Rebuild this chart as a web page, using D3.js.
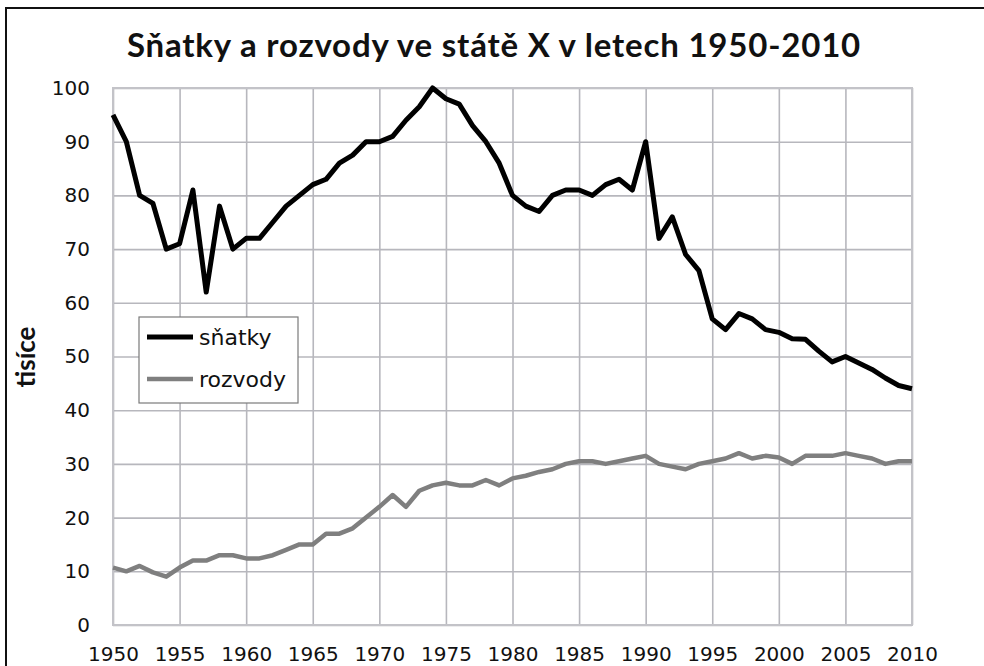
<!DOCTYPE html>
<html>
<head>
<meta charset="utf-8">
<script src="https://cdn.jsdelivr.net/npm/d3@7"></script>
<style>
  html, body { margin: 0; padding: 0; background: #fff; }
  svg { display: block; }
</style>
</head>
<body>
<svg id="chart" width="984" height="666"></svg>
<script>
// Data (tisíce)
var startYear = 1950;
var endYear = 2010;
var snatky = [95, 90, 80, 78.5, 70, 71, 81, 62, 78, 70,
              72, 72, 75, 78, 80, 82, 83, 86, 87.5, 90,
              90, 91, 94, 96.5, 100, 98, 97, 93, 90, 86,
              80, 78, 77, 80, 81, 81, 80, 82, 83, 81,
              90, 72, 76, 69, 66, 57, 55, 58, 57, 55,
              54.5, 53.3, 53.2, 51, 49, 50, 48.8, 47.6, 46, 44.6,
              44];
var rozvody = [10.7, 10, 11, 9.8, 9, 10.7, 12, 12, 13, 13,
               12.4, 12.4, 13, 14, 15, 15, 17, 17, 18, 20,
               22, 24.2, 22, 25, 26, 26.5, 26, 26, 27, 26,
               27.3, 27.8, 28.5, 29, 30, 30.5, 30.5, 30, 30.5, 31,
               31.5, 30, 29.5, 29, 30, 30.5, 31, 32, 31, 31.5,
               31.2, 30, 31.5, 31.5, 31.5, 32, 31.5, 31, 30, 30.5,
               30.5];
var xTicks = [1950, 1955, 1960, 1965, 1970, 1975, 1980, 1985, 1990, 1995, 2000, 2005, 2010];
var yTicks = [0, 10, 20, 30, 40, 50, 60, 70, 80, 90, 100];
var seriesNames = ["sňatky", "rozvody"];
var seriesColours = ["#000000", "#7f7f7f"];

var years = d3.range(startYear, endYear + 1);

var margin = { top: 88, right: 72, bottom: 41, left: 113 };
var svgWidth = 984, svgHeight = 666;
var width = svgWidth - margin.left - margin.right;
var height = svgHeight - margin.top - margin.bottom;

var svg = d3.select("#chart");

// outer frame (runs off the right and bottom edge in the original)
svg.append("rect")
    .attr("x", 6).attr("y", 8)
    .attr("width", 1000).attr("height", 700)
    .attr("fill", "#fff")
    .attr("stroke", "#111")
    .attr("stroke-width", 2);

svg.append("text")
    .attr("x", 494).attr("y", 57)
    .attr("text-anchor", "middle")
    .style("font-family", "Lato, 'Open Sans', sans-serif")
    .style("font-weight", "bold")
    .style("font-size", "33px")
    .style("letter-spacing", "0.8px")
    .attr("fill", "#111")
    .text("Sňatky a rozvody ve státě X v letech 1950-2010");

var g = svg.append("g")
    .attr("transform", "translate(" + margin.left + "," + margin.top + ")");

var x = d3.scaleLinear().domain([startYear, endYear]).range([0, width]);
var y = d3.scaleLinear().domain([0, 100]).range([height, 0]);

// gridlines
var gridColour = "#b7b7bd";
g.append("g")
    .attr("class", "grid y")
    .call(d3.axisLeft(y).tickValues(yTicks).tickSize(-width).tickFormat(""))
    .call(function (s) { s.select(".domain").remove(); })
    .selectAll("line")
    .attr("stroke", gridColour)
    .attr("stroke-width", 1.6);

g.append("g")
    .attr("class", "grid x")
    .attr("transform", "translate(0," + height + ")")
    .call(d3.axisBottom(x).tickValues(xTicks).tickSize(-height).tickFormat(""))
    .call(function (s) { s.select(".domain").remove(); })
    .selectAll("line")
    .attr("stroke", gridColour)
    .attr("stroke-width", 1.6);

g.append("rect")
    .attr("width", width).attr("height", height)
    .attr("fill", "none")
    .attr("stroke", "#c3c3c8")
    .attr("stroke-width", 2);

// axis labels
var yAxis = g.append("g")
    .call(d3.axisLeft(y).tickValues(yTicks).tickSize(0).tickPadding(23));
yAxis.select(".domain").remove();
yAxis.selectAll("text")
    .style("font-family", "'DejaVu Sans', Verdana, sans-serif")
    .style("font-size", "20px")
    .attr("fill", "#111");

var xAxis = g.append("g")
    .attr("transform", "translate(0," + height + ")")
    .call(d3.axisBottom(x).tickValues(xTicks).tickSize(0).tickPadding(22).tickFormat(d3.format("d")));
xAxis.select(".domain").remove();
xAxis.selectAll("text")
    .style("font-family", "'DejaVu Sans', Verdana, sans-serif")
    .style("font-size", "20px")
    .attr("fill", "#111");

svg.append("text")
    .attr("transform", "translate(35,357) rotate(-90)")
    .attr("text-anchor", "middle")
    .style("font-family", "Lato, 'Open Sans', sans-serif")
    .style("font-weight", "bold")
    .style("font-size", "26px")
    .attr("fill", "#111")
    .text("tisíce");

// lines
var line = d3.line()
    .x(function (d, i) { return x(years[i]); })
    .y(function (d) { return y(d); });

g.append("path")
    .datum(rozvody)
    .attr("fill", "none")
    .attr("stroke", seriesColours[1])
    .attr("stroke-width", 4.5)
    .attr("stroke-linejoin", "round")
    .attr("d", line);

g.append("path")
    .datum(snatky)
    .attr("fill", "none")
    .attr("stroke", seriesColours[0])
    .attr("stroke-width", 5)
    .attr("stroke-linejoin", "round")
    .attr("d", line);

// legend
var legend = svg.append("g").attr("transform", "translate(139,317)");
legend.append("rect")
    .attr("width", 159).attr("height", 86)
    .attr("fill", "#fff")
    .attr("stroke", "#7a7a7a")
    .attr("stroke-width", 1.2);

var items = legend.selectAll(".item")
    .data(seriesNames)
    .enter().append("g")
    .attr("class", "item")
    .attr("transform", function (d, i) { return "translate(8," + (20 + i * 42) + ")"; });

items.append("line")
    .attr("x1", 0).attr("x2", 46)
    .attr("stroke", function (d, i) { return seriesColours[i]; })
    .attr("stroke-width", function (d, i) { return i === 0 ? 5 : 4.5; });

items.append("text")
    .attr("x", 52)
    .attr("dy", "0.35em")
    .style("font-family", "'DejaVu Sans', Verdana, sans-serif")
    .style("font-size", "22px")
    .attr("fill", "#111")
    .text(function (d) { return d; });
</script>
</body>
</html>
